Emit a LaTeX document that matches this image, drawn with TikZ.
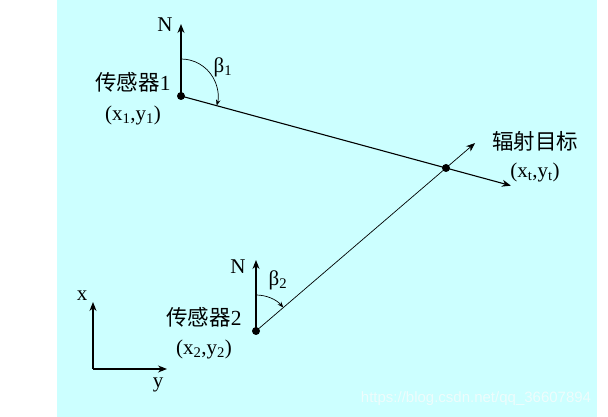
\documentclass[tikz,border=0pt]{standalone}
\usepackage{fontspec}
\setmainfont{Liberation Serif}
\newfontfamily\cjk{Noto Sans CJK SC}
\newfontfamily\wmfont{Liberation Sans}
\usetikzlibrary{arrows.meta,calc}
\definecolor{bgcyan}{RGB}{204,255,255}
\definecolor{wmcol}{RGB}{238,252,252}
\newcommand{\sbs}[1]{\textsubscript{#1}}
\begin{document}
\begin{tikzpicture}[x=1pt,y=1pt,
  lbl/.style={inner sep=0pt,font=\fontsize{21}{23}\selectfont},
  cjklbl/.style={inner sep=0pt,font=\fontsize{21.5}{24}\selectfont\cjk},
  dot/.style={circle,fill=black,inner sep=0pt,minimum size=8pt},
  arr/.style={-{Stealth[length=9pt,width=7pt]}},
  thick1/.style={line width=1.1pt},
  thin1/.style={line width=0.7pt}]
\useasboundingbox (0,0) rectangle (608,417);
\fill[bgcyan] (57,0) rectangle (597,417);
% points
\node[dot] (s1) at (181,321) {};
\node[dot] (t) at (446,249) {};
\node[dot] (s2) at (256,86) {};
\coordinate (n1) at (181,393);
\coordinate (n2) at (256,157);
\coordinate (e1) at ($(s1.center)!1.245!(t.center)$);
\coordinate (e2) at ($(s2.center)!1.153!(t.center)$);
% lines
\draw[thick1,arr] (s1.center) -- (n1);
\draw[thick1,arr] (s2.center) -- (n2);
\draw[thick1,arr] (s1.center) -- (e1);
\draw[thin1,arr] (s2.center) -- (e2);
% angle arcs
\draw[thin1,-{Stealth[length=6pt,width=4.5pt]}] ($(s1.center)+(90:37)$) arc[start angle=90,end angle=-15.2,radius=37];
\draw[thin1,-{Stealth[length=6pt,width=4.5pt]}] ($(s2.center)+(90:36)$) arc[start angle=90,end angle=40.6,radius=36];
% axes
\coordinate (o) at (93,48);
\coordinate (ax) at (93,115);
\coordinate (ay) at (167,48);
\draw[thick1,arr] (o) -- (ax);
\draw[thick1,arr] (o) -- (ay);
% labels
\node[lbl] (ln1) at (165,392) {N};
\node[lbl] (lb1) at (223,350) {β\sbs{1}};
\node[cjklbl] (ls1) at (133,335) {传感器\rmfamily 1};
\node[lbl] (lc1) at (133,302) {(x\sbs{1},y\sbs{1})};
\node[cjklbl] (lt) at (535,276) {辐射目标};
\node[lbl] (lct) at (535,245) {(x\sbs{t},y\sbs{t})};
\node[lbl] (ln2) at (238,150) {N};
\node[lbl] (lb2) at (278,137) {β\sbs{2}};
\node[cjklbl] (ls2) at (204,100) {传感器\rmfamily 2};
\node[lbl] (lc2) at (204,68) {(x\sbs{2},y\sbs{2})};
\node[lbl] (lx) at (82,121) {x};
\node[lbl,anchor=base] (ly) at (158,29) {y};
\node[inner sep=0pt,font=\fontsize{15}{17}\selectfont\wmfont,text=wmcol] (wm) at (476,18) {https://blog.csdn.net/qq\_36607894};
\end{tikzpicture}
\end{document}
